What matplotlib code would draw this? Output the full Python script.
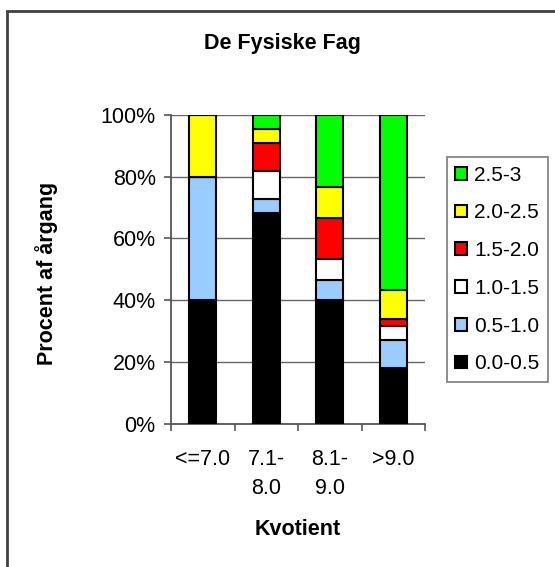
import numpy as np
import matplotlib
matplotlib.use('Agg')
import matplotlib.pyplot as plt
from matplotlib.patches import Rectangle

plt.rcParams['font.family'] = ['Liberation Sans', 'DejaVu Sans']

# Kvotient-grupper og fordeling (procent af årgang)
kategorier = ['<=7.0', '7.1-\n8.0', '8.1-\n9.0', '>9.0']
intervaller = ['0.0-0.5', '0.5-1.0', '1.0-1.5', '1.5-2.0', '2.0-2.5', '2.5-3']
farver = ['#000000', '#99CCFF', '#FFFFFF', '#FF0000', '#FFFF00', '#00FF00']

andel_00_05 = [40.0, 68.2, 40.0, 18.2]
andel_05_10 = [40.0, 4.5, 6.7, 9.1]
andel_10_15 = [0.0, 9.1, 6.7, 4.5]
andel_15_20 = [0.0, 9.1, 13.3, 2.3]
andel_20_25 = [20.0, 4.6, 10.0, 9.1]
andel_25_30 = [0.0, 4.5, 23.3, 56.8]

serier = [andel_00_05, andel_05_10, andel_10_15, andel_15_20, andel_20_25, andel_25_30]

W, H = 555, 567
fig = plt.figure(figsize=(W / 100, H / 100), dpi=100)
fig.patch.set_facecolor('white')

ax = fig.add_axes([171 / W, 1 - 424 / H, 254 / W, 309.3 / H])

x = np.arange(len(kategorier))
bund = np.zeros(len(kategorier))
handles = []
for vals, farve, navn in zip(serier, farver, intervaller):
    b = ax.bar(x, vals, width=0.42, bottom=bund, color=farve,
               edgecolor='black', linewidth=1.5, label=navn, zorder=3)
    handles.append(b)
    bund += np.array(vals)

ax.set_xlim(-0.5, len(kategorier) - 0.5)
ax.set_ylim(0, 100)
ax.set_yticks(np.arange(0, 101, 20))
ax.set_yticklabels([f'{v}%' for v in range(0, 101, 20)])
ax.set_xticks(x)
ax.set_xticklabels(kategorier, linespacing=1.5, va='top')
ax.set_xticks(np.arange(-0.5, len(kategorier)), minor=True)

ax.yaxis.grid(True, color='#666666', linewidth=1.0, zorder=0)
ax.set_axisbelow(True)
for s in ['top', 'right']:
    ax.spines[s].set_visible(False)
for s in ['left', 'bottom']:
    ax.spines[s].set_color('#555555')
    ax.spines[s].set_linewidth(1.3)

ax.tick_params(axis='y', direction='out', length=5, width=1.2, color='#555555',
               labelsize=15.5, pad=6)
ax.tick_params(axis='x', which='major', length=0, labelsize=15.5, pad=18)
ax.tick_params(axis='x', which='minor', direction='out', length=5, width=1.2,
               color='#555555')

fig.text(282 / W, 1 - 48.5 / H, 'De Fysiske Fag', ha='center', va='baseline',
         fontsize=15.5, fontweight='bold')
fig.text(298 / W, 1 - 535 / H, 'Kvotient', ha='center', va='baseline',
         fontsize=15.5, fontweight='bold')
fig.text(47 / W, 1 - 273 / H, 'Procent af årgang', ha='center', va='center',
         rotation=90, fontsize=15.5, fontweight='bold')

leg = fig.legend(handles[::-1], intervaller[::-1], loc='center left',
                 bbox_to_anchor=(447 / W, 1 - 269.5 / H), bbox_transform=fig.transFigure,
                 fontsize=15, frameon=True, fancybox=False, borderaxespad=0,
                 handlelength=0.55, handleheight=0.55, handletextpad=0.35,
                 labelspacing=0.9, borderpad=0.4)
leg.get_frame().set_edgecolor('#666666')
leg.get_frame().set_linewidth(1.3)

# ramme om diagramområdet
fig.add_artist(Rectangle((7 / W, -0.1), 2.0, 1.1 - 11 / H, transform=fig.transFigure,
                         fill=False, edgecolor='#404040', linewidth=2, clip_on=False))

fig.savefig('out.png', dpi=100)
